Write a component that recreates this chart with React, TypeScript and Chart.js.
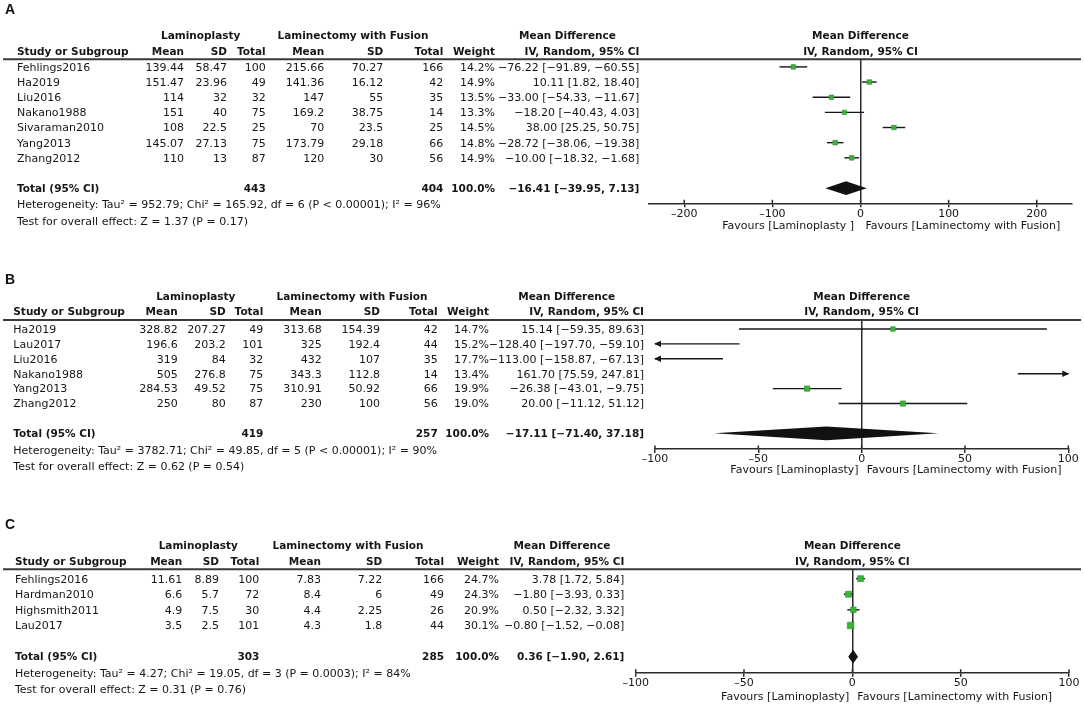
import React, { useEffect, useRef } from 'react';
import { Chart, registerables } from 'chart.js';

Chart.register(...registerables);

const FONT = '"DejaVu Sans", sans-serif';
const W = 1084;
const AXIS_H = 20;
const INK = '#161616';
const LINE = '#2b2b2b';
const GREEN = '#3fb23c';
const GREEN_EDGE = '#2f8f2d';

// ---------- Panel A ----------
const A_STUDIES = ['Fehlings2016', 'Ha2019', 'Liu2016', 'Nakano1988', 'Sivaraman2010', 'Yang2013', 'Zhang2012'];
const A_LP_MEAN = [139.44, 151.47, 114, 151, 108, 145.07, 110];
const A_LP_SD = [58.47, 23.96, 32, 40, 22.5, 27.13, 13];
const A_LP_N = [100, 49, 32, 75, 25, 75, 87];
const A_LF_MEAN = [215.66, 141.36, 147, 169.2, 70, 173.79, 120];
const A_LF_SD = [70.27, 16.12, 55, 38.75, 23.5, 29.18, 30];
const A_LF_N = [166, 42, 35, 14, 25, 66, 56];
const A_WEIGHT = [14.2, 14.9, 13.5, 13.3, 14.5, 14.8, 14.9];
const A_MD = [-76.22, 10.11, -33.0, -18.2, 38.0, -28.72, -10.0];
const A_LO = [-91.89, 1.82, -54.33, -40.43, 25.25, -38.06, -18.32];
const A_HI = [-60.55, 18.4, -11.67, 4.03, 50.75, -19.38, -1.68];
const A_TOTAL = { n1: 443, n2: 404, md: -16.41, lo: -39.95, hi: 7.13 };
const A_HET = { tau2: '952.79', chi2: '165.92', df: 6, p: '< 0.00001', i2: 96, z: '1.37', pz: '0.17' };
const A_TICKS = { min: -240, max: 240, step: 100 };

// ---------- Panel B ----------
const B_STUDIES = ['Ha2019', 'Lau2017', 'Liu2016', 'Nakano1988', 'Yang2013', 'Zhang2012'];
const B_LP_MEAN = [328.82, 196.6, 319, 505, 284.53, 250];
const B_LP_SD = [207.27, 203.2, 84, 276.8, 49.52, 80];
const B_LP_N = [49, 101, 32, 75, 75, 87];
const B_LF_MEAN = [313.68, 325, 432, 343.3, 310.91, 230];
const B_LF_SD = [154.39, 192.4, 107, 112.8, 50.92, 100];
const B_LF_N = [42, 44, 35, 14, 66, 56];
const B_WEIGHT = [14.7, 15.2, 17.7, 13.4, 19.9, 19.0];
const B_MD = [15.14, -128.4, -113.0, 161.7, -26.38, 20.0];
const B_LO = [-59.35, -197.7, -158.87, 75.59, -43.01, -11.12];
const B_HI = [89.63, -59.1, -67.13, 247.81, -9.75, 51.12];
const B_TOTAL = { n1: 419, n2: 257, md: -17.11, lo: -71.4, hi: 37.18 };
const B_HET = { tau2: '3782.71', chi2: '49.85', df: 5, p: '< 0.00001', i2: 90, z: '0.62', pz: '0.54' };
const B_TICKS = { min: -100, max: 100, step: 50 };

// ---------- Panel C ----------
const C_STUDIES = ['Fehlings2016', 'Hardman2010', 'Highsmith2011', 'Lau2017'];
const C_LP_MEAN = [11.61, 6.6, 4.9, 3.5];
const C_LP_SD = [8.89, 5.7, 7.5, 2.5];
const C_LP_N = [100, 72, 30, 101];
const C_LF_MEAN = [7.83, 8.4, 4.4, 4.3];
const C_LF_SD = [7.22, 6, 2.25, 1.8];
const C_LF_N = [166, 49, 26, 44];
const C_WEIGHT = [24.7, 24.3, 20.9, 30.1];
const C_MD = [3.78, -1.8, 0.5, -0.8];
const C_LO = [1.72, -3.93, -2.32, -1.52];
const C_HI = [5.84, 0.33, 3.32, -0.08];
const C_TOTAL = { n1: 303, n2: 285, md: 0.36, lo: -1.9, hi: 2.61 };
const C_HET = { tau2: '4.27', chi2: '19.05', df: 3, p: '= 0.0003', i2: 84, z: '0.31', pz: '0.76' };
const C_TICKS = { min: -100, max: 100, step: 50 };

type Layout = {
  top: number; height: number; letterY: number;
  area: { left: number; right: number; top: number; bottom: number };
  yMin: number; yMax: number; totalRow: number;
  cols: { name: number; m1: number; sd1: number; n1: number; m2: number; sd2: number; n2: number; w: number; ci: number };
  lpC: number; lfC: number; mdC: number; favY: number;
};

const LAYOUT_A: Layout = {
  top: 0, height: 236, letterY: 10,
  area: { left: 649, right: 1072, top: 59.3, bottom: 203.3 },
  yMin: -0.5, yMax: 9, totalRow: 8,
  cols: { name: 17, m1: 184, sd1: 227, n1: 265.7, m2: 324.3, sd2: 383.3, n2: 443.3, w: 495, ci: 639.3 },
  lpC: 200.7, lfC: 353, mdC: 567.5, favY: 226.3,
};
const LAYOUT_B: Layout = {
  top: 236, height: 242, letterY: 44,
  area: { left: 655, right: 1068.3, top: 84, bottom: 213 },
  yMin: -0.6, yMax: 8.05, totalRow: 7,
  cols: { name: 13.3, m1: 177.7, sd1: 225.7, n1: 263.3, m2: 321.7, sd2: 380, n2: 437.7, w: 489, ci: 644 },
  lpC: 195.8, lfC: 352, mdC: 566.7, favY: 234,
};
const LAYOUT_C: Layout = {
  top: 478, height: 228, letterY: 47,
  area: { left: 635.7, right: 1069, top: 91.3, bottom: 194.7 },
  yMin: -0.6, yMax: 6.03, totalRow: 5,
  cols: { name: 15, m1: 182.3, sd1: 219, n1: 259.3, m2: 321, sd2: 382.3, n2: 444, w: 499, ci: 624.3 },
  lpC: 198.3, lfC: 348, mdC: 562, favY: 218.7,
};

type Panel = {
  letter: string; studies: string[];
  lpMean: number[]; lpSd: number[]; lpN: number[];
  lfMean: number[]; lfSd: number[]; lfN: number[];
  weight: number[]; md: number[]; lo: number[]; hi: number[];
  total: { n1: number; n2: number; md: number; lo: number; hi: number };
  het: { tau2: string; chi2: string; df: number; p: string; i2: number; z: string; pz: string };
  ticks: { min: number; max: number; step: number };
  favLeft: string; layout: Layout;
};

const PANELS: Panel[] = [
  { letter: 'A', studies: A_STUDIES, lpMean: A_LP_MEAN, lpSd: A_LP_SD, lpN: A_LP_N, lfMean: A_LF_MEAN, lfSd: A_LF_SD, lfN: A_LF_N, weight: A_WEIGHT, md: A_MD, lo: A_LO, hi: A_HI, total: A_TOTAL, het: A_HET, ticks: A_TICKS, favLeft: 'Favours [Laminoplasty ] ', layout: LAYOUT_A },
  { letter: 'B', studies: B_STUDIES, lpMean: B_LP_MEAN, lpSd: B_LP_SD, lpN: B_LP_N, lfMean: B_LF_MEAN, lfSd: B_LF_SD, lfN: B_LF_N, weight: B_WEIGHT, md: B_MD, lo: B_LO, hi: B_HI, total: B_TOTAL, het: B_HET, ticks: B_TICKS, favLeft: 'Favours [Laminoplasty]', layout: LAYOUT_B },
  { letter: 'C', studies: C_STUDIES, lpMean: C_LP_MEAN, lpSd: C_LP_SD, lpN: C_LP_N, lfMean: C_LF_MEAN, lfSd: C_LF_SD, lfN: C_LF_N, weight: C_WEIGHT, md: C_MD, lo: C_LO, hi: C_HI, total: C_TOTAL, het: C_HET, ticks: C_TICKS, favLeft: 'Favours [Laminoplasty]', layout: LAYOUT_C },
];

const minus = (s: string) => s.replace(/-/g, '\u2212');
const f2 = (v: number) => minus(v.toFixed(2));
const ciText = (m: number, l: number, h: number) => `${f2(m)} [${f2(l)}, ${f2(h)}]`;
const markerRadius = (w: number) => (1.2 * Math.sqrt(w)) / Math.SQRT2;

function drawText(ctx: CanvasRenderingContext2D, s: string, x: number, y: number, align: CanvasTextAlign, bold = false) {
  ctx.font = bold ? `bold 10.5px ${FONT}` : `11px ${FONT}`;
  ctx.textAlign = align;
  ctx.textBaseline = 'middle';
  ctx.fillStyle = INK;
  ctx.fillText(s, x, y);
}

function forestPlugin(p: Panel) {
  return {
    id: 'forest' + p.letter,
    beforeDatasetsDraw(chart: any) {
      const ctx: CanvasRenderingContext2D = chart.ctx;
      const xs = chart.scales.x;
      const ys = chart.scales.y;
      const { min, max } = p.ticks;
      ctx.save();
      ctx.strokeStyle = INK;
      ctx.fillStyle = INK;
      ctx.lineWidth = 1.4;
      p.md.forEach((_, i) => {
        const y = ys.getPixelForValue(i);
        const lo = Math.max(p.lo[i], min);
        const hi = Math.min(p.hi[i], max);
        const x1 = xs.getPixelForValue(lo);
        const x2 = xs.getPixelForValue(hi);
        ctx.beginPath();
        ctx.moveTo(x1, y);
        ctx.lineTo(x2, y);
        ctx.stroke();
        if (p.lo[i] < min) {
          ctx.beginPath();
          ctx.moveTo(x1 - 1, y);
          ctx.lineTo(x1 + 6, y - 3.2);
          ctx.lineTo(x1 + 6, y + 3.2);
          ctx.closePath();
          ctx.fill();
        }
        if (p.hi[i] > max) {
          ctx.beginPath();
          ctx.moveTo(x2 + 1, y);
          ctx.lineTo(x2 - 6, y - 3.2);
          ctx.lineTo(x2 - 6, y + 3.2);
          ctx.closePath();
          ctx.fill();
        }
      });
      // summary diamond
      const yd = ys.getPixelForValue(p.layout.totalRow);
      const dl = xs.getPixelForValue(p.total.lo);
      const dm = xs.getPixelForValue(p.total.md);
      const dr = xs.getPixelForValue(p.total.hi);
      ctx.fillStyle = '#111';
      ctx.beginPath();
      ctx.moveTo(dl, yd);
      ctx.lineTo(dm, yd - 6.8);
      ctx.lineTo(dr, yd);
      ctx.lineTo(dm, yd + 6.8);
      ctx.closePath();
      ctx.fill();
      ctx.restore();
    },
    afterDraw(chart: any) {
      const ctx: CanvasRenderingContext2D = chart.ctx;
      const xs = chart.scales.x;
      const ys = chart.scales.y;
      const L = p.layout;
      const c = L.cols;
      const top = chart.chartArea.top;
      const axisY = chart.chartArea.bottom;
      ctx.save();
      // top rule
      ctx.strokeStyle = '#3a3a3a';
      ctx.lineWidth = 2;
      ctx.beginPath();
      ctx.moveTo(3, top);
      ctx.lineTo(1081, top);
      ctx.stroke();
      // upward tick halves
      ctx.strokeStyle = LINE;
      ctx.lineWidth = 1.5;
      xs.ticks.forEach((t: any) => {
        const x = xs.getPixelForValue(t.value);
        ctx.beginPath();
        ctx.moveTo(x, axisY - 3.5);
        ctx.lineTo(x, axisY);
        ctx.stroke();
      });
      // panel letter
      ctx.font = `bold 14px "Liberation Sans", Arial, sans-serif`;
      ctx.textAlign = 'left';
      ctx.textBaseline = 'middle';
      ctx.fillStyle = '#111';
      ctx.fillText(p.letter, 5, L.letterY);
      // headers
      const h1 = top - 23;
      const h2 = top - 7.5;
      drawText(ctx, 'Laminoplasty', L.lpC, h1, 'center', true);
      drawText(ctx, 'Laminectomy with Fusion', L.lfC, h1, 'center', true);
      drawText(ctx, 'Mean Difference', L.mdC, h1, 'center', true);
      drawText(ctx, 'Study or Subgroup', c.name, h2, 'left', true);
      drawText(ctx, 'Mean', c.m1, h2, 'right', true);
      drawText(ctx, 'SD', c.sd1, h2, 'right', true);
      drawText(ctx, 'Total', c.n1, h2, 'right', true);
      drawText(ctx, 'Mean', c.m2, h2, 'right', true);
      drawText(ctx, 'SD', c.sd2, h2, 'right', true);
      drawText(ctx, 'Total', c.n2, h2, 'right', true);
      drawText(ctx, 'Weight', c.w, h2, 'right', true);
      drawText(ctx, 'IV, Random, 95% CI', c.ci, h2, 'right', true);
      const x0 = xs.getPixelForValue(0);
      drawText(ctx, 'Mean Difference', x0, h1, 'center', true);
      drawText(ctx, 'IV, Random, 95% CI', x0, h2, 'center', true);
      // study rows
      p.studies.forEach((s, i) => {
        const y = ys.getPixelForValue(i) + 1;
        drawText(ctx, s, c.name, y, 'left');
        drawText(ctx, String(p.lpMean[i]), c.m1, y, 'right');
        drawText(ctx, String(p.lpSd[i]), c.sd1, y, 'right');
        drawText(ctx, String(p.lpN[i]), c.n1, y, 'right');
        drawText(ctx, String(p.lfMean[i]), c.m2, y, 'right');
        drawText(ctx, String(p.lfSd[i]), c.sd2, y, 'right');
        drawText(ctx, String(p.lfN[i]), c.n2, y, 'right');
        drawText(ctx, p.weight[i].toFixed(1) + '%', c.w, y, 'right');
        drawText(ctx, ciText(p.md[i], p.lo[i], p.hi[i]), c.ci, y, 'right');
      });
      // total row
      const yt = ys.getPixelForValue(L.totalRow) + 1;
      drawText(ctx, 'Total (95% CI)', c.name, yt, 'left', true);
      drawText(ctx, String(p.total.n1), c.n1, yt, 'right', true);
      drawText(ctx, String(p.total.n2), c.n2, yt, 'right', true);
      const wsum = p.weight.reduce((a, b) => a + b, 0);
      drawText(ctx, (Math.round(wsum / 10) * 10).toFixed(1) + '%', c.w, yt, 'right', true);
      drawText(ctx, ciText(p.total.md, p.total.lo, p.total.hi), c.ci, yt, 'right', true);
      const h = p.het;
      drawText(ctx, `Heterogeneity: Tau\u00b2 = ${h.tau2}; Chi\u00b2 = ${h.chi2}, df = ${h.df} (P ${h.p}); I\u00b2 = ${h.i2}%`, c.name, yt + 16.3, 'left');
      drawText(ctx, `Test for overall effect: Z = ${h.z} (P = ${h.pz})`, c.name, yt + 32.5, 'left');
      // favours
      drawText(ctx, p.favLeft, x0 - 3, L.favY, 'right');
      drawText(ctx, 'Favours [Laminectomy with Fusion]', x0 + 5, L.favY, 'left');
      ctx.restore();
    },
  };
}

function ForestPanel({ p }: { p: Panel }) {
  const ref = useRef<HTMLCanvasElement>(null);
  useEffect(() => {
    const canvas = ref.current;
    if (!canvas) return;
    const L = p.layout;
    const chart = new Chart(canvas, {
      type: 'scatter',
      data: {
        datasets: [
          {
            data: p.md.map((v, i) => ({ x: v, y: i })),
            pointStyle: 'rect',
            pointRadius: (ctx: any) => markerRadius(p.weight[ctx.dataIndex] ?? 10),
            pointHoverRadius: (ctx: any) => markerRadius(p.weight[ctx.dataIndex] ?? 10),
            backgroundColor: GREEN,
            borderColor: GREEN_EDGE,
            borderWidth: 0.6,
          } as any,
        ],
      },
      options: {
        responsive: false,
        animation: false,
        devicePixelRatio: 1,
        events: [],
        layout: {
          padding: {
            left: L.area.left,
            right: W - L.area.right,
            top: L.area.top,
            bottom: L.height - L.area.bottom - AXIS_H,
          },
        },
        plugins: { legend: { display: false }, tooltip: { enabled: false } },
        scales: {
          x: {
            type: 'linear',
            min: p.ticks.min,
            max: p.ticks.max,
            afterFit: (s: any) => {
              s.height = AXIS_H;
            },
            ticks: {
              stepSize: p.ticks.step,
              includeBounds: false,
              autoSkip: false,
              maxRotation: 0,
              padding: 0,
              color: INK,
              font: { family: FONT, size: 11 },
              callback: (v: any) => String(v).replace('-', '\u2013'),
            },
            grid: {
              color: (c: any) => (c.tick && c.tick.value === 0 ? LINE : 'rgba(0,0,0,0)'),
              lineWidth: 1.5,
              tickColor: LINE,
              tickWidth: 1.5,
              tickLength: 4,
            },
            border: { display: true, color: LINE, width: 1.5 },
          },
          y: {
            type: 'linear',
            display: false,
            reverse: true,
            min: L.yMin,
            max: L.yMax,
          },
        },
      } as any,
      plugins: [forestPlugin(p)],
    });
    return () => chart.destroy();
  }, [p]);
  return (
    <canvas
      ref={ref}
      width={W}
      height={p.layout.height}
      style={{ position: 'absolute', left: 0, top: p.layout.top, width: W, height: p.layout.height, display: 'block' }}
    />
  );
}

export default function App() {
  return (
    <div style={{ position: 'absolute', left: 0, top: 0, width: W, height: 706, background: '#fff', overflow: 'hidden' }}>
      {PANELS.map((p) => (
        <ForestPanel key={p.letter} p={p} />
      ))}
    </div>
  );
}
